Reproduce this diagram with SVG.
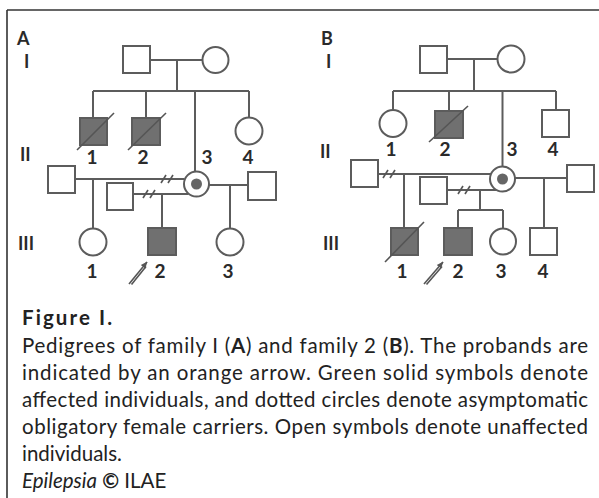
<svg xmlns="http://www.w3.org/2000/svg" width="599" height="498" viewBox="0 0 599 498">
<defs>
<style>
.ln{stroke:#5c5c5c;stroke-width:2;fill:none}
.sym{fill:#fff;stroke:#5c5c5c;stroke-width:2}
.aff{fill:#707070;stroke:#5c5c5c;stroke-width:2}
.dot{fill:#666;stroke:none}
.dg{stroke:#555;stroke-width:1.6}
.lbl{font-family:Lato,"Open Sans",sans-serif;font-weight:bold;font-size:18px;fill:#2a2a2a}
.num{font-family:Lato,"Open Sans",sans-serif;font-weight:bold;font-size:19px;fill:#2a2a2a;text-anchor:middle}
.cap{font-family:Lato,"Open Sans",sans-serif;font-size:20.5px;fill:#222}
.ar{stroke:#555;stroke-width:1.6;fill:none}
</style>
<marker id="ah" viewBox="0 0 10 10" refX="9" refY="5" markerWidth="7" markerHeight="7" orient="auto" markerUnits="userSpaceOnUse">
<path d="M0,1 L10,5 L0,9 z" fill="#555"/>
</marker>
</defs>
<rect width="599" height="498" fill="#fff"/>
<g id="frame">
<line x1="7" y1="10" x2="599" y2="10" stroke="#333" stroke-width="1.6"/>
<line x1="7" y1="10" x2="7" y2="498" stroke="#333" stroke-width="1.6"/>
</g>

<g id="connectors">
<!-- Panel A -->
<line class="ln" x1="150" y1="60" x2="202" y2="60"/>
<line class="ln" x1="177" y1="60" x2="177" y2="91"/>
<line class="ln" x1="93" y1="91" x2="249" y2="91"/>
<line class="ln" x1="93" y1="91" x2="93" y2="118"/>
<line class="ln" x1="146" y1="91" x2="146" y2="118"/>
<line class="ln" x1="195" y1="91" x2="195" y2="171.5"/>
<line class="ln" x1="249" y1="91" x2="249" y2="117.5"/>
<line class="ln" x1="75" y1="179" x2="184.5" y2="179"/>
<line class="dg" x1="161" y1="183" x2="166" y2="175"/>
<line class="dg" x1="168" y1="183" x2="173" y2="175"/>
<line class="ln" x1="133" y1="194" x2="188.5" y2="194"/>
<line class="dg" x1="143" y1="198" x2="148" y2="190"/>
<line class="dg" x1="150" y1="198" x2="155" y2="190"/>
<line class="ln" x1="93" y1="179" x2="93" y2="228.5"/>
<line class="ln" x1="162" y1="194" x2="162" y2="228"/>
<line class="ln" x1="208.5" y1="185" x2="248" y2="185"/>
<line class="ln" x1="230" y1="185" x2="230" y2="228.5"/>
<line class="ar" x1="129" y1="284" x2="147" y2="262" marker-end="url(#ah)"/>
<line class="ar" x1="131.5" y1="284.5" x2="146" y2="266.5"/>
<!-- Panel B -->
<line class="ln" x1="447" y1="59" x2="497.5" y2="59"/>
<line class="ln" x1="474" y1="59" x2="474" y2="91"/>
<line class="ln" x1="393" y1="91" x2="556" y2="91"/>
<line class="ln" x1="393" y1="91" x2="393" y2="110"/>
<line class="ln" x1="449" y1="91" x2="449" y2="111"/>
<line class="ln" x1="502.5" y1="91" x2="502.5" y2="166.5"/>
<line class="ln" x1="556" y1="91" x2="556" y2="110"/>
<line class="ln" x1="378" y1="174" x2="491" y2="174"/>
<line class="dg" x1="383" y1="178" x2="388" y2="170"/>
<line class="dg" x1="390" y1="178" x2="395" y2="170"/>
<line class="ln" x1="404" y1="174" x2="404" y2="228"/>
<line class="ln" x1="447" y1="190" x2="496.6" y2="190"/>
<line class="dg" x1="458" y1="194" x2="463" y2="186"/>
<line class="dg" x1="465" y1="194" x2="470" y2="186"/>
<line class="ln" x1="480" y1="190" x2="480" y2="210"/>
<line class="ln" x1="458" y1="210" x2="503" y2="210"/>
<line class="ln" x1="458" y1="210" x2="458" y2="228"/>
<line class="ln" x1="503" y1="210" x2="503" y2="228.5"/>
<line class="ln" x1="515" y1="178" x2="567" y2="178"/>
<line class="ln" x1="544" y1="178" x2="544" y2="228"/>
<line class="ar" x1="424" y1="284" x2="443" y2="262" marker-end="url(#ah)"/>
<line class="ar" x1="426.5" y1="284.5" x2="442" y2="266.5"/>
</g>

<!-- Panel A nodes -->
<g id="A-label">
<text class="lbl" x="17" y="45" font-size="23">A</text>
<text class="lbl" x="24" y="68">I</text>
<text class="lbl" x="20" y="161">II</text>
<text class="lbl" x="18" y="250">III</text>
</g>
<g id="A-I-1"><rect class="sym" x="123" y="46" width="27" height="27"/></g>
<g id="A-I-2"><circle class="sym" cx="215.5" cy="60" r="13"/></g>
<g id="A-II-1"><rect class="aff" x="80" y="118" width="27" height="27"/><line class="dg" x1="77" y1="150" x2="114" y2="113"/><text class="num" x="92" y="164">1</text></g>
<g id="A-II-2"><rect class="aff" x="132" y="118" width="28" height="27"/><line class="dg" x1="128" y1="150" x2="166" y2="113"/><text class="num" x="143" y="164">2</text></g>
<g id="A-II-3"><circle class="sym" cx="196.5" cy="184" r="12.5"/><circle class="dot" cx="196.5" cy="184" r="5.5"/><text class="num" x="207" y="164">3</text></g>
<g id="A-II-4"><circle class="sym" cx="249" cy="131" r="13.5"/><text class="num" x="248" y="164">4</text></g>
<g id="A-II-sp1"><rect class="sym" x="48" y="166" width="27" height="27"/></g>
<g id="A-II-sp2"><rect class="sym" x="107" y="183" width="26" height="27"/></g>
<g id="A-II-sp3"><rect class="sym" x="248" y="172" width="28" height="28"/></g>
<g id="A-III-1"><circle class="sym" cx="93" cy="242" r="13.5"/><text class="num" x="92" y="278">1</text></g>
<g id="A-III-2"><rect class="aff" x="148" y="228" width="28" height="27"/><text class="num" x="160" y="278">2</text></g>
<g id="A-III-3"><circle class="sym" cx="230" cy="242" r="13.5"/><text class="num" x="228" y="278">3</text></g>

<!-- Panel B nodes -->
<g id="B-label">
<text class="lbl" x="321" y="45" font-size="23">B</text>
<text class="lbl" x="326" y="68">I</text>
<text class="lbl" x="320" y="158">II</text>
<text class="lbl" x="323" y="250">III</text>
</g>
<g id="B-I-1"><rect class="sym" x="420" y="46" width="27" height="27"/></g>
<g id="B-I-2"><circle class="sym" cx="511" cy="59" r="13.5"/></g>
<g id="B-II-1"><circle class="sym" cx="393" cy="123.5" r="13.5"/><text class="num" x="391" y="156">1</text></g>
<g id="B-II-2"><rect class="aff" x="435" y="111" width="28" height="27"/><line class="dg" x1="429" y1="142" x2="468" y2="106"/><text class="num" x="445" y="156">2</text></g>
<g id="B-II-3"><circle class="sym" cx="502.5" cy="179" r="12.5"/><circle class="dot" cx="502.5" cy="179" r="5.5"/><text class="num" x="512" y="156">3</text></g>
<g id="B-II-4"><rect class="sym" x="542" y="110" width="27" height="27"/><text class="num" x="553" y="156">4</text></g>
<g id="B-II-sp1"><rect class="sym" x="351" y="160" width="27" height="27"/></g>
<g id="B-II-sp2"><rect class="sym" x="420" y="177" width="27" height="27"/></g>
<g id="B-II-sp3"><rect class="sym" x="567" y="165" width="27" height="27"/></g>
<g id="B-III-1"><rect class="aff" x="391" y="228" width="27" height="27"/><line class="dg" x1="385" y1="262" x2="424" y2="222"/><text class="num" x="402" y="278">1</text></g>
<g id="B-III-2"><rect class="aff" x="444" y="228" width="28" height="27"/><text class="num" x="458" y="278">2</text></g>
<g id="B-III-3"><circle class="sym" cx="503" cy="241.5" r="13"/><text class="num" x="501" y="278">3</text></g>
<g id="B-III-4"><rect class="sym" x="530" y="228" width="27" height="27"/><text class="num" x="543" y="278">4</text></g>

<g id="caption">
<text class="cap" x="22" y="325" font-weight="bold" font-size="21" textLength="90" lengthAdjust="spacing">Figure I.</text>
<text class="cap" x="22" y="353" textLength="566" lengthAdjust="spacing">Pedigrees of family I (<tspan font-weight="bold">A</tspan>) and family 2 (<tspan font-weight="bold">B</tspan>). The probands are</text>
<text class="cap" x="22" y="380" textLength="566" lengthAdjust="spacing">indicated by an orange arrow. Green solid symbols denote</text>
<text class="cap" x="22" y="407" textLength="566" lengthAdjust="spacing">affected individuals, and dotted circles denote asymptomatic</text>
<text class="cap" x="22" y="434" textLength="566" lengthAdjust="spacing">obligatory female carriers. Open symbols denote unaffected</text>
<text class="cap" x="22" y="461">individuals.</text>
<text class="cap" x="22" y="488"><tspan font-style="italic">Epilepsia</tspan> <tspan font-weight="bold">©</tspan> ILAE</text>
</g>
</svg>
